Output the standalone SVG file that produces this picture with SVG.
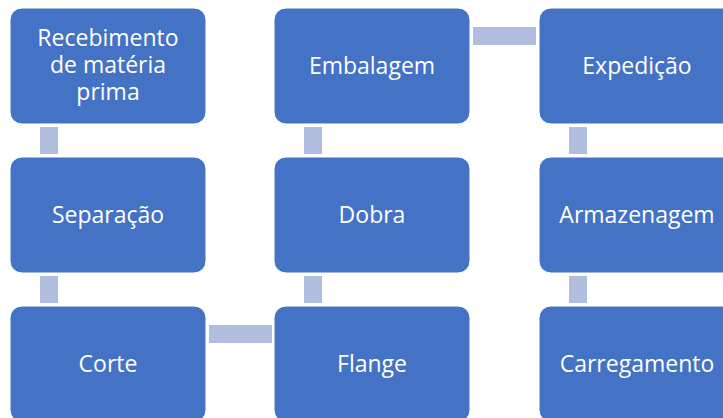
<svg xmlns="http://www.w3.org/2000/svg" width="723" height="418" viewBox="0 0 723 418">
<style>
.box{fill:#4472C4;stroke:#FFFFFF;stroke-width:1}
.lbl{font-family:"Open Sans","Noto Sans",sans-serif;font-size:23px;fill:#FFFFFF;text-anchor:middle}
.con{fill:#B1BDDF}
</style>
<rect width="723" height="418" fill="#FFFFFF"/>
<g id="connectors">
<rect class="con" x="40" y="127" width="18" height="27"/>
<rect class="con" x="40" y="276" width="18" height="27"/>
<rect class="con" x="209" y="325" width="63" height="18"/>
<rect class="con" x="304" y="276" width="18" height="27"/>
<rect class="con" x="304" y="127" width="18" height="27"/>
<rect class="con" x="473" y="27" width="63" height="18"/>
<rect class="con" x="569" y="127" width="18" height="27"/>
<rect class="con" x="569" y="276" width="18" height="27"/>
</g>
<g id="recebimento">
<rect class="box" x="10" y="8" width="196" height="116" rx="12"/>
<text class="lbl" x="108" y="46">Recebimento</text>
<text class="lbl" x="108" y="73">de matéria</text>
<text class="lbl" x="108" y="100">prima</text>
</g>
<g id="separacao">
<rect class="box" x="10" y="157" width="196" height="116" rx="12"/>
<text class="lbl" x="108" y="223">Separação</text>
</g>
<g id="corte">
<rect class="box" x="10" y="306" width="196" height="116" rx="12"/>
<text class="lbl" x="108" y="372">Corte</text>
</g>
<g id="flange">
<rect class="box" x="274" y="306" width="196" height="116" rx="12"/>
<text class="lbl" x="372" y="372">Flange</text>
</g>
<g id="dobra">
<rect class="box" x="274" y="157" width="196" height="116" rx="12"/>
<text class="lbl" x="372" y="223">Dobra</text>
</g>
<g id="embalagem">
<rect class="box" x="274" y="8" width="196" height="116" rx="12"/>
<text class="lbl" x="372" y="74">Embalagem</text>
</g>
<g id="expedicao">
<rect class="box" x="539" y="8" width="196" height="116" rx="12"/>
<text class="lbl" x="637" y="74">Expedição</text>
</g>
<g id="armazenagem">
<rect class="box" x="539" y="157" width="196" height="116" rx="12"/>
<text class="lbl" x="637" y="223">Armazenagem</text>
</g>
<g id="carregamento">
<rect class="box" x="539" y="306" width="196" height="116" rx="12"/>
<text class="lbl" x="637" y="372">Carregamento</text>
</g>
</svg>
